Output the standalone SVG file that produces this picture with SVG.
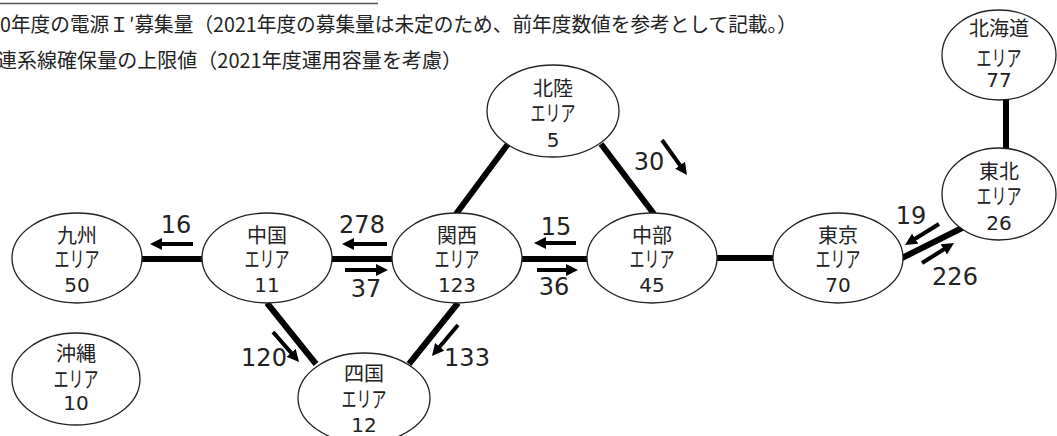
<svg xmlns="http://www.w3.org/2000/svg" width="1057" height="436" viewBox="0 0 1057 436">
<style>
.node ellipse{fill:#fff;stroke:#222;stroke-width:1.3}
.nm{font-family:"Noto Sans CJK JP",sans-serif;font-size:20px;fill:#222;text-anchor:middle}
.ka{font-family:"Noto Sans CJK JP",sans-serif;font-size:22px;fill:#222;text-anchor:middle}
.num{font-family:"DejaVu Sans",sans-serif;font-size:20px;fill:#222;text-anchor:middle}
.lbl{font-family:"DejaVu Sans",sans-serif;font-size:24px;fill:#222;text-anchor:middle}
.hdr{font-family:"Noto Sans CJK JP",sans-serif;font-size:20px;fill:#222}
.link{stroke:#000;stroke-width:6;fill:none}
.arr{stroke:#000;stroke-width:4;fill:none;marker-end:url(#ah)}
</style>
<defs>
<marker id="ah" markerUnits="userSpaceOnUse" markerWidth="12" markerHeight="12" refX="2" refY="6" orient="auto">
<path d="M0,0 L12,6 L0,12 z" fill="#000"/>
</marker>
</defs>
<rect width="1057" height="436" fill="#fff"/>
<g id="header">
<line x1="0" y1="3.5" x2="378" y2="3.5" stroke="#555" stroke-width="1.5"/>
<text class="hdr" x="0" y="32" textLength="797" lengthAdjust="spacingAndGlyphs">0年度の電源Ｉ′募集量（2021年度の募集量は未定のため、前年度数値を参考として記載。）</text>
<text class="hdr" x="-3" y="68" textLength="465" lengthAdjust="spacingAndGlyphs">連系線確保量の上限値（2021年度運用容量を考慮）</text>
</g>
<g id="connectors">
<line class="link" x1="142" y1="259" x2="203" y2="259"/>
<line class="link" x1="331" y1="259" x2="393" y2="259"/>
<line class="link" x1="522" y1="259" x2="588" y2="259"/>
<line class="link" x1="717" y1="258" x2="774" y2="258"/>
<line class="link" x1="902" y1="258" x2="964" y2="227"/>
<line class="link" x1="1006" y1="99" x2="1006" y2="149"/>
<line class="link" x1="508" y1="144" x2="456" y2="214"/>
<line class="link" x1="601" y1="144" x2="654" y2="214"/>
<line class="link" x1="267" y1="303" x2="316" y2="364"/>
<line class="link" x1="458" y1="303" x2="409" y2="364"/>
<line class="arr" x1="193" y1="244" x2="160" y2="244"/>
<line class="arr" x1="387" y1="244" x2="352" y2="244"/>
<line class="arr" x1="345" y1="270" x2="378" y2="270"/>
<line class="arr" x1="576" y1="243" x2="544" y2="243"/>
<line class="arr" x1="537" y1="270" x2="568" y2="270"/>
<line class="arr" x1="662" y1="140" x2="681.2" y2="166.9"/>
<line class="arr" x1="939" y1="224" x2="913.5" y2="239.75"/>
<line class="arr" x1="922" y1="263" x2="945.5" y2="248.3"/>
<line class="arr" x1="273" y1="332" x2="292.5" y2="354.4"/>
<line class="arr" x1="458" y1="325" x2="438.4" y2="348.3"/>
<text class="lbl" x="176" y="233">16</text>
<text class="lbl" x="362" y="233">278</text>
<text class="lbl" x="366" y="297">37</text>
<text class="lbl" x="556" y="235">15</text>
<text class="lbl" x="554" y="295">36</text>
<text class="lbl" x="649" y="170">30</text>
<text class="lbl" x="911" y="224">19</text>
<text class="lbl" x="955" y="285">226</text>
<text class="lbl" x="264" y="366">120</text>
<text class="lbl" x="467" y="366">133</text>
</g>
<g id="kyushu" class="node">
<ellipse cx="77" cy="258" rx="65" ry="45"/>
<text class="nm" x="77" y="243">九州</text>
<text class="ka" x="77" y="267" textLength="45" lengthAdjust="spacingAndGlyphs">エリア</text>
<text class="num" x="77" y="292">50</text>
</g>
<g id="chugoku" class="node">
<ellipse cx="267" cy="258" rx="65" ry="45"/>
<text class="nm" x="267" y="243">中国</text>
<text class="ka" x="267" y="267" textLength="45" lengthAdjust="spacingAndGlyphs">エリア</text>
<text class="num" x="267" y="292">11</text>
</g>
<g id="kansai" class="node">
<ellipse cx="457" cy="258" rx="65" ry="45"/>
<text class="nm" x="457" y="243">関西</text>
<text class="ka" x="457" y="267" textLength="45" lengthAdjust="spacingAndGlyphs">エリア</text>
<text class="num" x="457" y="292">123</text>
</g>
<g id="chubu" class="node">
<ellipse cx="652" cy="258" rx="65" ry="45"/>
<text class="nm" x="652" y="243">中部</text>
<text class="ka" x="652" y="267" textLength="45" lengthAdjust="spacingAndGlyphs">エリア</text>
<text class="num" x="652" y="292">45</text>
</g>
<g id="tokyo" class="node">
<ellipse cx="838" cy="258" rx="65" ry="45"/>
<text class="nm" x="838" y="243">東京</text>
<text class="ka" x="838" y="267" textLength="45" lengthAdjust="spacingAndGlyphs">エリア</text>
<text class="num" x="838" y="292">70</text>
</g>
<g id="tohoku" class="node">
<ellipse cx="999" cy="194" rx="57" ry="46"/>
<text class="nm" x="999" y="179">東北</text>
<text class="ka" x="999" y="204" textLength="45" lengthAdjust="spacingAndGlyphs">エリア</text>
<text class="num" x="999" y="230">26</text>
</g>
<g id="hokkaido" class="node">
<ellipse cx="999" cy="55" rx="57" ry="45"/>
<text class="nm" x="999" y="36">北海道</text>
<text class="ka" x="999" y="66" textLength="45" lengthAdjust="spacingAndGlyphs">エリア</text>
<text class="num" x="999" y="87">77</text>
</g>
<g id="hokuriku" class="node">
<ellipse cx="553" cy="111" rx="66" ry="46"/>
<text class="nm" x="553" y="96">北陸</text>
<text class="ka" x="553" y="121" textLength="45" lengthAdjust="spacingAndGlyphs">エリア</text>
<text class="num" x="553" y="147">5</text>
</g>
<g id="shikoku" class="node">
<ellipse cx="364" cy="398" rx="66" ry="45"/>
<text class="nm" x="364" y="381">四国</text>
<text class="ka" x="364" y="407" textLength="45" lengthAdjust="spacingAndGlyphs">エリア</text>
<text class="num" x="364" y="432">12</text>
</g>
<g id="okinawa" class="node">
<ellipse cx="76" cy="379" rx="64" ry="46"/>
<text class="nm" x="76" y="361">沖縄</text>
<text class="ka" x="76" y="387" textLength="45" lengthAdjust="spacingAndGlyphs">エリア</text>
<text class="num" x="76" y="410">10</text>
</g>
</svg>
